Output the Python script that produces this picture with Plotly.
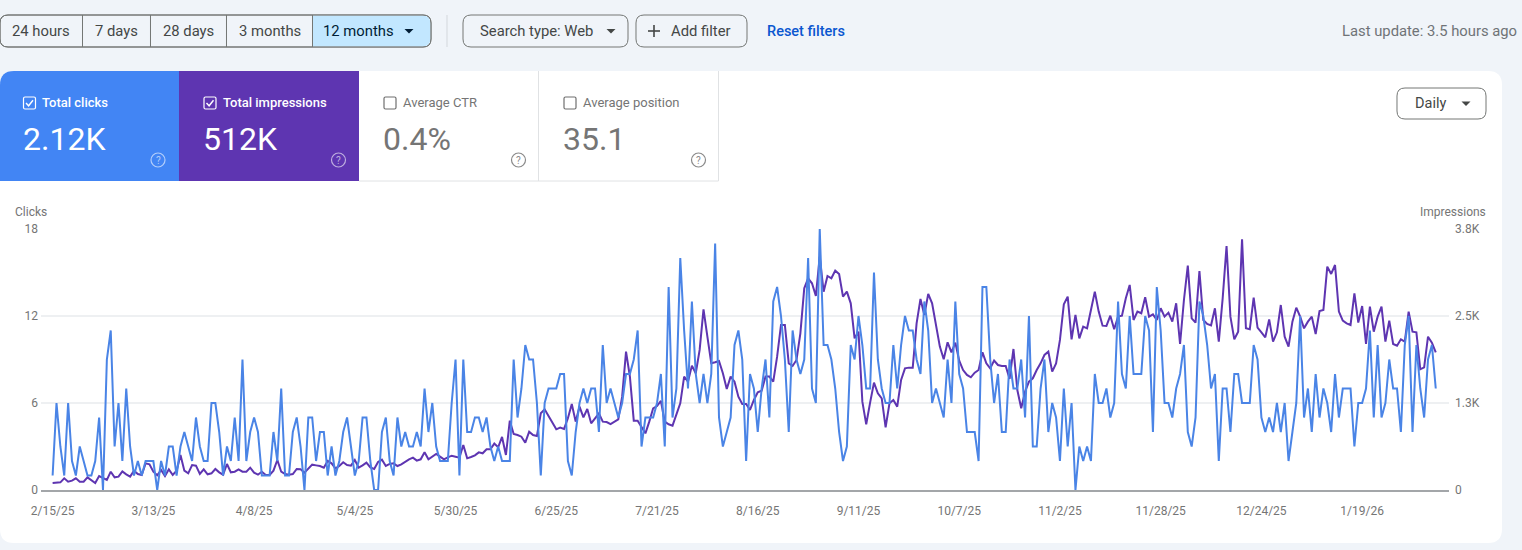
import pandas as pd
import plotly.graph_objects as go

start_date = "2025-02-15"

clicks = [
 1,6,3,1,6,2,1,3,2,1,1,2,5,0,9,11,3,6,2,7,3,1,2,1,2,2,2,0,2,1,3,3,1,3,4,3,2,5,3,2,
 2,6,6,4,1,3,2,5,2,9,2,4,5,4,1,1,1,4,2,7,1,1,4,5,3,0,5,5,2,4,4,1,3,1,2,4,5,3,1,2,
 5,5,2,0,0,4,5,2,1,5,3,4,3,3,4,3,7,4,6,3,2,2,2,6,9,1,9,4,4,5,5,4,5,3,2,3,2,2,2,9,
 5,7,10,9,9,6,1,6,7,7,7,8,8,2,1,4,6,7,6,7,7,4,10,6,7,6,5,6,8,8,9,11,3,5,5,5,6,8,3,14,
 5,7,16,11,7,13,8,6,8,6,8,17,5,3,4,5,10,11,9,2,8,7,4,7,9,5,13,14,
 12,9,4,11,9,8,9,16,7,6,18,10,10,9,7,4,2,3,10,9,12,10,7,7,15,9,7,6,6,10,7,10,12,11,11,9,8,13,11,6,
 7,6,5,9,6,13,8,7,4,4,4,2,14,14,9,6,8,4,4,9,7,7,9,5,12,3,3,7,9,4,6,5,2,7,3,6,0,3,2,3,
 2,8,6,6,7,5,6,13,8,7,12,8,8,8,12,11,4,14,
 11,6,6,5,7,8,10,4,3,5,13,12,10,7,8,2,7,7,4,8,8,6,6,6,10,9,5,4,5,4,6,4,6,2,4,6,12,5,7,4,
 8,5,7,6,4,8,5,7,7,7,3,6,6,7,11,5,10,5,6,9,7,7,4,10,12,4,10,7,5,9,10,7,
]

impressions = [
 100,110,110,168,120,134,168,120,120,182,134,100,201,172,144,263,182,192,268,225,
 192,278,230,216,383,369,263,211,287,201,297,216,278,503,278,240,359,350,230,297,
 225,240,302,254,220,374,254,263,297,263,263,321,249,220,263,216,216,278,431,263,
 230,220,230,302,297,249,311,364,354,345,321,417,383,311,345,398,359,350,431,321,
 354,393,326,302,402,436,345,374,383,345,369,407,441,465,422,441,541,441,479,517,
 479,441,469,493,479,465,647,455,474,498,541,527,584,584,666,613,762,503,996,805,
 790,766,680,838,790,776,1102,1159,1063,958,872,896,877,1030,1236,982,1198,1044,1164,958,
 1030,1102,982,977,948,982,1015,1341,1988,1629,996,996,910,814,982,1174,1207,1279,982,944,
 924,1102,1245,1629,1557,1787,1677,2012,2596,2203,1820,1835,1854,1677,1451,1629,1557,1341,1236,1236,
 1150,1293,1403,1427,1629,1629,1557,1916,2371,2371,1820,1782,1868,2251,2898,3042,2970,2788,3353,2850,
 3075,3042,3152,3104,2778,2850,2682,2179,2275,1269,944,1255,1542,1389,1317,901,1245,1293,1198,1581,
 1748,1758,1758,2395,2745,2515,2817,2682,2395,2060,1878,2122,1978,2117,1859,1724,1653,1619,1686,1724,
 1978,1820,1748,1859,1796,1782,1782,1595,2026,1437,1174,1413,1557,1605,1724,1820,1940,1988,1700,1820,
 2156,2668,2778,2165,2515,2179,2347,2323,2587,2850,2563,2361,2357,2505,2309,2491,2505,2754,2946,2443,
 2563,2539,2769,2491,2524,2443,2611,2491,2548,2419,2682,2098,2730,3224,2467,2405,3147,2443,2385,2366,
 2611,2132,2754,3506,2491,2165,2275,3602,2323,2309,2764,2333,2266,2194,2452,2132,2266,2658,2203,2060,
 2419,2620,2491,2323,2419,2491,2242,2572,2587,3209,3104,3233,2563,2433,2395,2371,2826,2405,2644,2098,
 2635,2275,2491,2635,2132,2433,2098,2074,2165,2132,2563,2275,2266,1734,1763,2203,2117,1978,
]

x_ticks = ["2025-02-15","2025-03-13","2025-04-08","2025-05-04","2025-05-30","2025-06-25","2025-07-21",
           "2025-08-16","2025-09-11","2025-10-07","2025-11-02","2025-11-28","2025-12-24","2026-01-19"]
x_labels = ["2/15/25","3/13/25","4/8/25","5/4/25","5/30/25","6/25/25","7/21/25",
            "8/16/25","9/11/25","10/7/25","11/2/25","11/28/25","12/24/25","1/19/26"]
clicks_ticks = [0, 6, 12, 18]
impr_ticks = [0, 1250, 2500, 3750]
impr_labels = ["0", "1.3K", "2.5K", "3.8K"]

W, H = 1522, 550
FONT = "Roboto"
BLUE, PURPLE = "#4285f4", "#5e35b1"
BG = "#f0f4f9"
BORDER = "#747775"
TEXT = "#444746"


def px(x):
    return x / W


def py(y):
    return 1 - y / H


def pt(x, y):
    return f"{px(x):.6f},{py(y):.6f}"


def round_rect(x0, y0, x1, y1, tl=0, tr=0, br=0, bl=0):
    return (f"M{pt(x0 + tl, y0)} L{pt(x1 - tr, y0)} Q{pt(x1, y0)} {pt(x1, y0 + tr)} "
            f"L{pt(x1, y1 - br)} Q{pt(x1, y1)} {pt(x1 - br, y1)} L{pt(x0 + bl, y1)} "
            f"Q{pt(x0, y1)} {pt(x0, y1 - bl)} L{pt(x0, y0 + tl)} Q{pt(x0, y0)} {pt(x0 + tl, y0)} Z")


shapes, notes = [], []


def box(x0, y0, x1, y1, fill="rgba(0,0,0,0)", line=None, lw=1, **radii):
    shapes.append(dict(type="path", xref="paper", yref="paper", layer="below",
                       path=round_rect(x0, y0, x1, y1, **radii), fillcolor=fill,
                       line=dict(color=line or "rgba(0,0,0,0)", width=lw if line else 0)))


def seg(points, color, lw=1):
    d = "M" + " L".join(pt(*p) for p in points)
    shapes.append(dict(type="path", xref="paper", yref="paper", layer="below", path=d,
                       line=dict(color=color, width=lw)))


def tri(cx, cy, color):
    d = f"M{pt(cx - 4.5, cy - 2)} L{pt(cx + 4.5, cy - 2)} L{pt(cx, cy + 2.5)} Z"
    shapes.append(dict(type="path", xref="paper", yref="paper", layer="below", path=d,
                       fillcolor=color, line=dict(width=0)))


def label(x, y, s, size=14.8, color=TEXT, anchor="center", weight=400):
    notes.append(dict(xref="paper", yref="paper", x=px(x), y=py(y), text=s, showarrow=False,
                      xanchor=anchor, yanchor="middle", borderpad=0, borderwidth=0,
                      font=dict(family=FONT, size=size, color=color, weight=weight)))


# top control row
box(0, 15, 431, 47, line=BORDER, tl=8, bl=8, tr=8, br=8)
box(312.5, 15.5, 430.5, 46.5, fill="#c2e7ff", tr=8, br=8)
box(0, 15, 431, 47, line=BORDER, tl=8, bl=8, tr=8, br=8)
for dx in (82.5, 150.5, 226.5, 312.5):
    seg([(dx, 15), (dx, 47)], BORDER)
for x, s in ((41, "24 hours"), (116.5, "7 days"), (188.5, "28 days"), (270, "3 months")):
    label(x, 31, s)
label(358.5, 31, "12 months", color="#001d35")
tri(409, 31, "#001d35")
seg([(447, 15), (447, 47)], "#d3d7dc")
box(463, 15, 628, 47, line=BORDER, tl=8, tr=8, br=8, bl=8)
label(536, 31, "Search type: Web")
tri(611, 31, TEXT)
box(636, 15, 747, 47, line=BORDER, tl=8, tr=8, br=8, bl=8)
seg([(648, 31), (660, 31)], TEXT, 1.6)
seg([(654, 25), (654, 37)], TEXT, 1.6)
label(700.5, 31, "Add filter")
label(806, 31, "Reset filters", size=14.5, color="#0b57d0", weight=500)
label(1517, 31, "Last update: 3.5 hours ago", color="#6f7377", anchor="right")

# main card and metric tiles
box(0, 71, 1502, 543, fill="white", tl=14, tr=14, br=14, bl=14)
box(0, 71, 179, 181, fill=BLUE, tl=14)
box(179, 71, 359, 181, fill=PURPLE)
seg([(538.5, 71), (538.5, 181)], "#e0e2e4")
seg([(718.5, 71), (718.5, 181)], "#e0e2e4")
seg([(359, 181), (718.5, 181)], "#e0e2e4")

GREY = "#757575"
tiles = [(23, "Total clicks", "2.12K", "white", True),
         (203.5, "Total impressions", "512K", "white", True),
         (383.5, "Average CTR", "0.4%", GREY, False),
         (563.5, "Average position", "35.1", GREY, False)]
for x, title, value, color, checked in tiles:
    box(x + 0.5, 97, x + 12.5, 109, line=color if checked else "#6f6f6f", lw=1.2,
        tl=1.5, tr=1.5, br=1.5, bl=1.5)
    if checked:
        seg([(x + 3, 103), (x + 5.6, 105.8), (x + 10, 100.2)], color, 1.4)
    label(x + 19, 102.5, title, size=13, color=color, anchor="left", weight=500 if checked else 400)
    label(x - 0.5, 138.5, value, size=32, color=color, anchor="left")
    icon = "rgba(255,255,255,0.6)" if checked else "#8a8a8a"
    hx = x + 135
    shapes.append(dict(type="circle", xref="paper", yref="paper", layer="below",
                       x0=px(hx - 7), x1=px(hx + 7), y0=py(167), y1=py(153),
                       line=dict(color=icon, width=1.2)))
    label(hx, 160, "?", size=10, color=icon)

# granularity button
box(1397, 88, 1486, 119, line=BORDER, tl=8, tr=8, br=8, bl=8)
label(1430.5, 103.5, "Daily", size=14.5, color=TEXT)
tri(1466, 103.5, TEXT)

# axis titles
label(15, 212, "Clicks", size=12, color=GREY, anchor="left")
label(1486, 212, "Impressions", size=12, color=GREY, anchor="right")

dates = pd.date_range(start_date, periods=len(clicks), freq="D")

fig = go.Figure()
fig.add_trace(go.Scatter(x=dates[:len(impressions)], y=impressions, name="Impressions", yaxis="y2",
                         mode="lines", line=dict(color=PURPLE, width=2)))
fig.add_trace(go.Scatter(x=dates, y=clicks, name="Clicks", yaxis="y",
                         mode="lines", line=dict(color="#4a84e6", width=2)))

grid = "#eef0f2"
fig.update_layout(
    width=W, height=H, margin=dict(l=0, r=0, t=0, b=0, autoexpand=False), autosize=False,
    paper_bgcolor=BG, plot_bgcolor="rgba(0,0,0,0)", showlegend=False,
    font=dict(family=FONT, size=12, color=GREY),
    shapes=shapes, annotations=notes,
    xaxis=dict(domain=[px(41), px(1449)], type="date", range=["2025-02-12", "2026-02-10 10:00"],
               tickvals=x_ticks, ticktext=x_labels, showgrid=False, ticks="", zeroline=False,
               showline=True, linecolor="#a3a6a9", linewidth=2, automargin=False,
               tickfont=dict(size=12, color=GREY), ticklabelstandoff=9),
    yaxis=dict(domain=[py(490), py(229)], range=[0, 18], tickvals=clicks_ticks, automargin=False,
               side="left", anchor="x", overlaying="y2",
               gridcolor=grid, gridwidth=1.5, zeroline=False, ticks="", showline=False,
               tickfont=dict(size=12, color=GREY), ticklabelstandoff=2),
    yaxis2=dict(domain=[py(490), py(229)], range=[0, 3750], tickvals=impr_ticks, ticktext=impr_labels,
                side="right", anchor="x", showgrid=False, zeroline=False, ticks="", showline=False,
                automargin=False, tickfont=dict(size=12, color=GREY), ticklabelstandoff=5),
)
fig.write_html("out.html", config={"displayModeBar": False},
               post_script="document.body.style.margin='0';document.body.style.overflow='hidden';")
